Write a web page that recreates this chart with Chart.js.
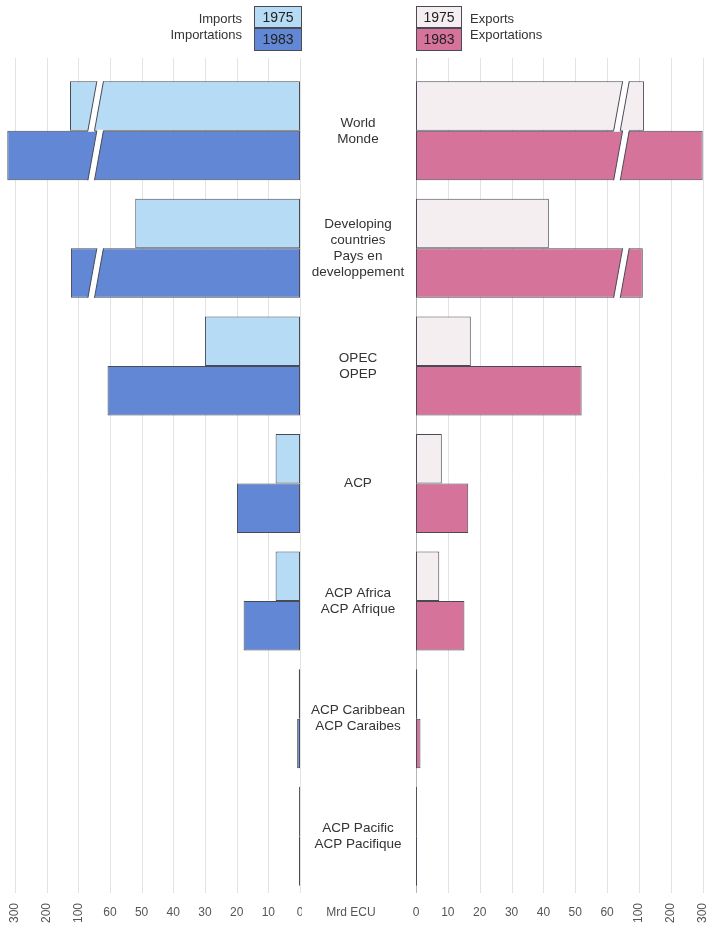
<!DOCTYPE html>
<html>
<head>
<meta charset="utf-8">
<script src="https://cdn.jsdelivr.net/npm/chart.js@4/dist/chart.umd.min.js"></script>
<style>
  html, body { margin: 0; padding: 0; background: #fff; }
  #wrap { position: relative; width: 710px; height: 928px; overflow: hidden; }
  canvas { position: absolute; top: 0; }
  #left-chart { left: 0; }
  #right-chart { left: 302px; }
</style>
</head>
<body>
<div id="wrap">
  <canvas id="left-chart" width="302" height="928"></canvas>
  <canvas id="right-chart" width="408" height="928"></canvas>
</div>
<script>
// ---- data (Mrd ECU) ----
const categories = [
  ['World', 'Monde'],
  ['Developing', 'countries', 'Pays en', 'developpement'],
  ['OPEC', 'OPEP'],
  ['ACP'],
  ['ACP Africa', 'ACP Afrique'],
  ['ACP Caribbean', 'ACP Caraibes'],
  ['ACP Pacific', 'ACP Pacifique']
];
const years = ['1975', '1983'];
const imports1975 = [126, 52, 30, 7.7, 7.7, 0.4, 0.3];
const imports1983 = [324, 123, 63, 19.9, 17.8, 0.9, 0.35];
const exports1975 = [116, 41.7, 17.2, 8.1, 7.3, 0.4, 0.3];
const exports1983 = [300, 112, 52, 16.4, 15.2, 1.4, 0.35];
const tickValues = [0, 10, 20, 30, 40, 50, 60, 100, 200, 300];
const breakValue = 78;

const FONT = '"Liberation Sans", Arial, Helvetica, sans-serif';
const BORDER = '#4a4a56';

// ---- broken axis: 0..60 by 10, then 100, 200, 300 at equal steps ----
const toPos = (v) => (v <= 60 ? v / 10 : v <= 100 ? 6 + (v - 60) / 40 : 7 + (v - 100) / 100);
const fromPos = (p) => (p <= 6 ? p * 10 : p <= 7 ? 60 + (p - 6) * 40 : 100 + (p - 7) * 100);

class BrokenScale extends Chart.LinearScale {
  buildTicks() { return tickValues.map((v) => ({ value: v })); }
  getPixelForValue(v) { return this.getPixelForDecimal(toPos(v) / toPos(this.max)); }
  getValueForPixel(px) { return fromPos(this.getDecimalForPixel(px) * toPos(this.max)); }
}
BrokenScale.id = 'broken';
BrokenScale.defaults = Chart.LinearScale.defaults;
Chart.register(BrokenScale);

// ---- plugins ----
const gridPlugin = {
  id: 'gridLines',
  beforeDatasetsDraw(chart, args, opts) {
    const ctx = chart.ctx;
    const x = chart.scales.x;
    ctx.save();
    x.ticks.forEach((t) => {
      const px = Math.round(x.getPixelForValue(t.value)) + 0.5;
      ctx.strokeStyle = (t.value === 0 && opts.zeroColor) ? opts.zeroColor : '#e3e3e3';
      ctx.lineWidth = 1;
      ctx.beginPath();
      ctx.moveTo(px, 58);
      ctx.lineTo(px, 893);
      ctx.stroke();
    });
    ctx.restore();
  }
};

// slanted white gap across bars that run past the 60 mark
const breakPlugin = {
  id: 'breaks',
  afterDatasetsDraw(chart) {
    const ctx = chart.ctx;
    const x = chart.scales.x;
    const xc = x.getPixelForValue(breakValue);
    chart.data.datasets.forEach((ds, di) => {
      chart.getDatasetMeta(di).data.forEach((bar, i) => {
        if (ds.data[i] <= breakValue) return;
        const top = bar.y - bar.height / 2 - 1;
        const bot = bar.y + bar.height / 2 + 1;
        const s = 4.5;
        const w = 3.3;
        ctx.save();
        ctx.beginPath();
        ctx.moveTo(xc + s - w, top);
        ctx.lineTo(xc + s + w, top);
        ctx.lineTo(xc - s + w, bot);
        ctx.lineTo(xc - s - w, bot);
        ctx.closePath();
        ctx.fillStyle = '#fff';
        ctx.fill();
        ctx.strokeStyle = BORDER;
        ctx.lineWidth = 1;
        ctx.beginPath();
        ctx.moveTo(xc + s - w, top + 1);
        ctx.lineTo(xc - s - w, bot - 1);
        ctx.moveTo(xc + s + w, top + 1);
        ctx.lineTo(xc - s + w, bot - 1);
        ctx.stroke();
        ctx.restore();
      });
    });
  }
};

const textPlugin = {
  id: 'texts',
  afterDraw(chart, args, opts) {
    const ctx = chart.ctx;
    const x = chart.scales.x;
    const y = chart.scales.y;
    const offset = opts.offset;
    ctx.save();

    // axis tick labels
    ctx.fillStyle = '#555';
    ctx.font = '12px ' + FONT;
    ctx.textAlign = 'center';
    ctx.textBaseline = 'middle';
    x.ticks.forEach((t) => {
      const px = x.getPixelForValue(t.value);
      if (t.value >= 100) {
        ctx.save();
        ctx.translate(px, 913);
        ctx.rotate(-Math.PI / 2);
        ctx.fillText(String(t.value), 0, 0);
        ctx.restore();
      } else {
        ctx.fillText(String(t.value), px, 913);
      }
    });

    // legend
    const ds = chart.data.datasets;
    const bx = opts.legendBox - offset;
    const boxes = [[6, 22], [28, 23]];
    ds.forEach((d, i) => {
      ctx.fillStyle = d.backgroundColor;
      ctx.fillRect(bx, boxes[i][0], opts.legendW, boxes[i][1]);
      ctx.strokeStyle = BORDER;
      ctx.lineWidth = 1;
      ctx.strokeRect(bx + 0.5, boxes[i][0] + 0.5, opts.legendW - 1, boxes[i][1] - 1);
      ctx.fillStyle = '#222';
      ctx.font = '14px ' + FONT;
      ctx.textAlign = 'center';
      ctx.fillText(d.label, bx + opts.legendW / 2, boxes[i][0] + boxes[i][1] / 2 + 1);
    });
    ctx.fillStyle = '#333';
    ctx.font = '13px ' + FONT;
    ctx.textAlign = opts.titleAlign;
    ctx.fillText(opts.title[0], opts.titleX - offset, 19);
    ctx.fillText(opts.title[1], opts.titleX - offset, 35);

    // category labels and unit in the centre column
    if (opts.drawCategories) {
      ctx.fillStyle = '#333';
      ctx.font = '13.5px ' + FONT;
      ctx.textAlign = 'center';
      const cx = 358 - offset;
      chart.data.labels.forEach((lines, i) => {
        const cy = y.getPixelForValue(i);
        const lh = 16;
        lines.forEach((line, k) => {
          ctx.fillText(line, cx, cy - (lines.length - 1) * lh / 2 + k * lh);
        });
      });
      ctx.fillStyle = '#555';
      ctx.font = '12px ' + FONT;
      ctx.fillText('Mrd ECU', 351 - offset, 913);
    }
    ctx.restore();
  }
};

function makeChart(id, series, colors, cfg) {
  return new Chart(document.getElementById(id), {
    type: 'bar',
    data: {
      labels: categories,
      datasets: series.map((s, i) => ({
        label: years[i],
        data: s,
        backgroundColor: colors[i],
        borderColor: BORDER,
        borderWidth: 1,
        borderSkipped: false,
        categoryPercentage: 0.842,
        barPercentage: 1.0
      }))
    },
    options: {
      indexAxis: 'y',
      responsive: false,
      animation: false,
      events: [],
      layout: { padding: cfg.padding },
      scales: {
        x: { type: 'broken', min: 0, max: cfg.max, reverse: cfg.reverse, display: false },
        y: { display: false }
      },
      plugins: {
        legend: { display: false },
        tooltip: { enabled: false },
        gridLines: { zeroColor: cfg.zeroColor },
        texts: cfg.texts
      }
    },
    plugins: [gridPlugin, breakPlugin, textPlugin]
  });
}

// ---- imports (left, reversed) ----
makeChart('left-chart', [imports1975, imports1983], ['#b6dcf5', '#6288d5'], {
  padding: { top: 72, bottom: 33, left: 0, right: 2 },
  max: 347,
  reverse: true,
  zeroColor: '#e3e3e3',
  texts: {
    offset: 0, legendBox: 254, legendW: 48,
    title: ['Imports', 'Importations'], titleX: 242, titleAlign: 'right',
    drawCategories: false
  }
});

// ---- exports (right) ----
makeChart('right-chart', [exports1975, exports1983], ['#f4eef1', '#d6739a'], {
  padding: { top: 72, bottom: 33, left: 114, right: 0 },
  max: 323,
  reverse: false,
  zeroColor: '#b5b5b5',
  texts: {
    offset: 302, legendBox: 416, legendW: 46,
    title: ['Exports', 'Exportations'], titleX: 470, titleAlign: 'left',
    drawCategories: true
  }
});
</script>
</body>
</html>
